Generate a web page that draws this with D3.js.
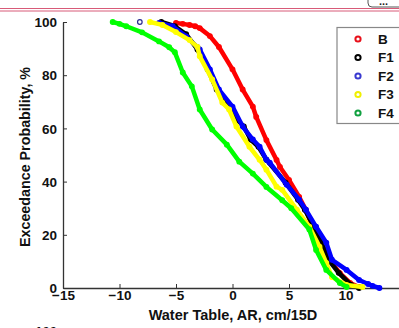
<!DOCTYPE html>
<html><head><meta charset="utf-8">
<script src="https://cdn.jsdelivr.net/npm/d3@7"></script>
<style>html,body{margin:0;padding:0;background:#fff;overflow:hidden}</style>
</head><body>
<svg id="c" width="399" height="328"></svg>
<script>
const seriesNames = ["B", "F1", "F2", "F3", "F4"];
const seriesColors = ["#ff0000", "#000000", "#0000ff", "#ffff00", "#00ff00"];
const legendColors = ["#e8101a", "#000000", "#3a3ad0", "#f0f000", "#10a040"];

const xB = [-5.0,-4.4,-3.8,-3.3,-2.9,-2.0,-1.2,0.0,0.9,1.8,2.1,3.0,3.9,4.2,5.0,5.9,6.5,7.1,7.7,8.6,9.5,10.4,11.2];
const yB = [99.6,99.3,98.9,98.4,97.7,94.7,90.6,82.2,74.6,68.2,64.3,55.6,48.1,45.5,40.6,34.2,29.3,22.9,18.0,10.5,5.6,1.9,0.4];

const xF1 = [-6.3,-5.1,-4.1,-3.1,-2.2,-1.4,-0.2,0.4,1.0,1.6,2.3,3.0,4.7,5.8,6.4,7.2,7.9,8.5,9.4,10.5,11.2];
const yF1 = [100,98.4,95.4,89.7,82.2,74.6,68.2,63.3,60.7,55.8,53.1,48.2,39.6,33.2,29.4,23.0,17.0,10.6,5.7,1.1,0.0];

const xF2 = [-6.5,-5.3,-4.1,-3.1,-2.9,-2.0,-1.2,0.0,0.9,1.8,2.4,3.0,3.3,4.8,5.9,6.5,7.4,8.3,8.8,10.1,11.2,12.0,12.4,13.0];
const yF2 = [99.6,98.4,94.6,90.5,89.7,82.2,74.6,68.2,60.7,55.8,53.1,48.2,47.1,38.8,33.2,29.4,23.0,17.0,10.6,6.8,3.0,1.5,0.8,0.0];
const xF2extra = [-8.2];
const yF2extra = [100];

const xF3 = [-7.3,-6.2,-5.0,-3.8,-3.1,-2.9,-1.8,-0.9,-0.3,0.35,1.5,2.4,3.0,3.9,4.4,5.7,6.8,7.7,8.3,8.8,10.1,11.5];
const yF3 = [100,98.9,96.2,93.2,90.6,87.1,78.4,69.7,67.1,60.7,53.1,48.2,44.5,38.1,36.9,29.4,23.0,15.5,9.4,4.1,1.1,0.4];

const xF4 = [-10.6,-10.0,-9.4,-8.0,-6.5,-5.6,-5.1,-4.4,-3.6,-2.9,-1.8,-0.5,0.6,1.8,3.0,4.4,5.2,6.8,7.4,8.3,9.5,10.1];
const yF4 = [100,99.3,98.4,96.1,92.7,90.5,88.6,81.0,75.8,67.1,59.6,53.9,47.5,43.0,38.0,33.0,30.0,22.0,14.3,6.8,1.9,0.4];

const xTicks = [-15, -10, -5, 0, 5, 10];
const yTicks = [0, 20, 40, 60, 80, 100];
const xLabel = "Water Table, AR, cm/15D";
const yLabel = "Exceedance Probability, %";

const seriesX = [xB, xF1, xF2, xF3, xF4];
const seriesY = [yB, yF1, yF2, yF3, yF4];

const svg = d3.select("#c");
const font = "'Liberation Sans', Arial, sans-serif";

// page chrome (cropped header)
svg.append("line").attr("x1",0).attr("x2",399).attr("y1",8.5).attr("y2",8.5).attr("stroke","#d85a78").attr("stroke-width",1);
svg.append("line").attr("x1",0).attr("x2",399).attr("y1",11).attr("y2",11).attr("stroke","#d85a78").attr("stroke-width",1);
svg.append("rect").attr("x",368).attr("y",-6).attr("width",40).attr("height",13).attr("rx",4)
  .attr("fill","#fff").attr("stroke","#555").attr("stroke-width",1);
svg.append("text").attr("x",379).attr("y",5).attr("font-family",font).attr("font-weight","bold").attr("font-size",11).attr("fill","#222").text("...");

const x = d3.scaleLinear().domain([-15, 15]).range([63, 402]);
const y = d3.scaleLinear().domain([0, 100]).range([288, 22]);

// axes
const gx = svg.append("g").attr("transform","translate(0,288)")
  .call(d3.axisBottom(x).tickValues(xTicks).tickSizeInner(-4).tickSizeOuter(0).tickPadding(5));
const gy = svg.append("g").attr("transform","translate(63,0)")
  .call(d3.axisLeft(y).tickValues(yTicks).tickSizeInner(-4).tickSizeOuter(0).tickPadding(6));
[gx, gy].forEach(g => {
  g.select(".domain").attr("stroke","#333").attr("stroke-width",1.3);
  g.selectAll(".tick line").attr("stroke","#333").attr("stroke-width",1);
  g.selectAll("text").attr("font-family",font).attr("font-weight","bold").attr("font-size",13.5).attr("fill","#111");
});
gx.selectAll("text").attr("dy","0.55em");
gy.selectAll("text").attr("dy","0.35em");

svg.append("text").attr("x",233).attr("y",320).attr("text-anchor","middle")
  .attr("font-family",font).attr("font-weight","bold").attr("font-size",14.5).attr("fill","#111").text(xLabel);
svg.append("text").attr("transform","translate(30,157) rotate(-90)").attr("text-anchor","middle")
  .attr("font-family",font).attr("font-weight","bold").attr("font-size",14.3).attr("fill","#111").text(yLabel);

// series
const line = d3.line().x(d => x(d[0])).y(d => y(d[1])).curve(d3.curveLinear);
seriesNames.forEach((name, i) => {
  const pts = seriesX[i].map((v, j) => [v, seriesY[i][j]]);
  const g = svg.append("g");
  g.append("path").datum(pts).attr("d", line).attr("fill","none")
    .attr("stroke", seriesColors[i]).attr("stroke-width", 4.5).attr("stroke-linejoin","round").attr("stroke-linecap","round");
  g.selectAll("circle").data(pts).enter().append("circle")
    .attr("cx", d => x(d[0])).attr("cy", d => y(d[1])).attr("r", 2.3)
    .attr("fill","none").attr("stroke", seriesColors[i]).attr("stroke-width", 1.3);
  if (name === "F2") {
    g.selectAll("circle.extra").data(xF2extra.map((v, j) => [v, yF2extra[j]])).enter().append("circle")
      .attr("class","extra").attr("cx", d => x(d[0])).attr("cy", d => y(d[1])).attr("r", 2.3)
      .attr("fill","none").attr("stroke", "#2a2a90").attr("stroke-width", 1.2);
  }
});

// legend
const lg = svg.append("g");
lg.append("rect").attr("x",337).attr("y",27.5).attr("width",80).attr("height",96)
  .attr("fill","#fff").attr("stroke","#888").attr("stroke-width",1.2);
seriesNames.forEach((name, i) => {
  const yy = 39 + i * 18.5;
  lg.append("circle").attr("cx",358).attr("cy",yy).attr("r",2.6)
    .attr("fill","none").attr("stroke",legendColors[i]).attr("stroke-width",2);
  lg.append("text").attr("x",378).attr("y",yy).attr("dy","0.36em")
    .attr("font-family",font).attr("font-weight","bold").attr("font-size",13.5).attr("fill","#111").text(name);
});

// cropped next chart label at bottom
svg.append("text").attr("x",57).attr("y",336).attr("text-anchor","end")
  .attr("font-family",font).attr("font-weight","bold").attr("font-size",13).attr("fill","#111").text("100");
</script>
</body></html>
